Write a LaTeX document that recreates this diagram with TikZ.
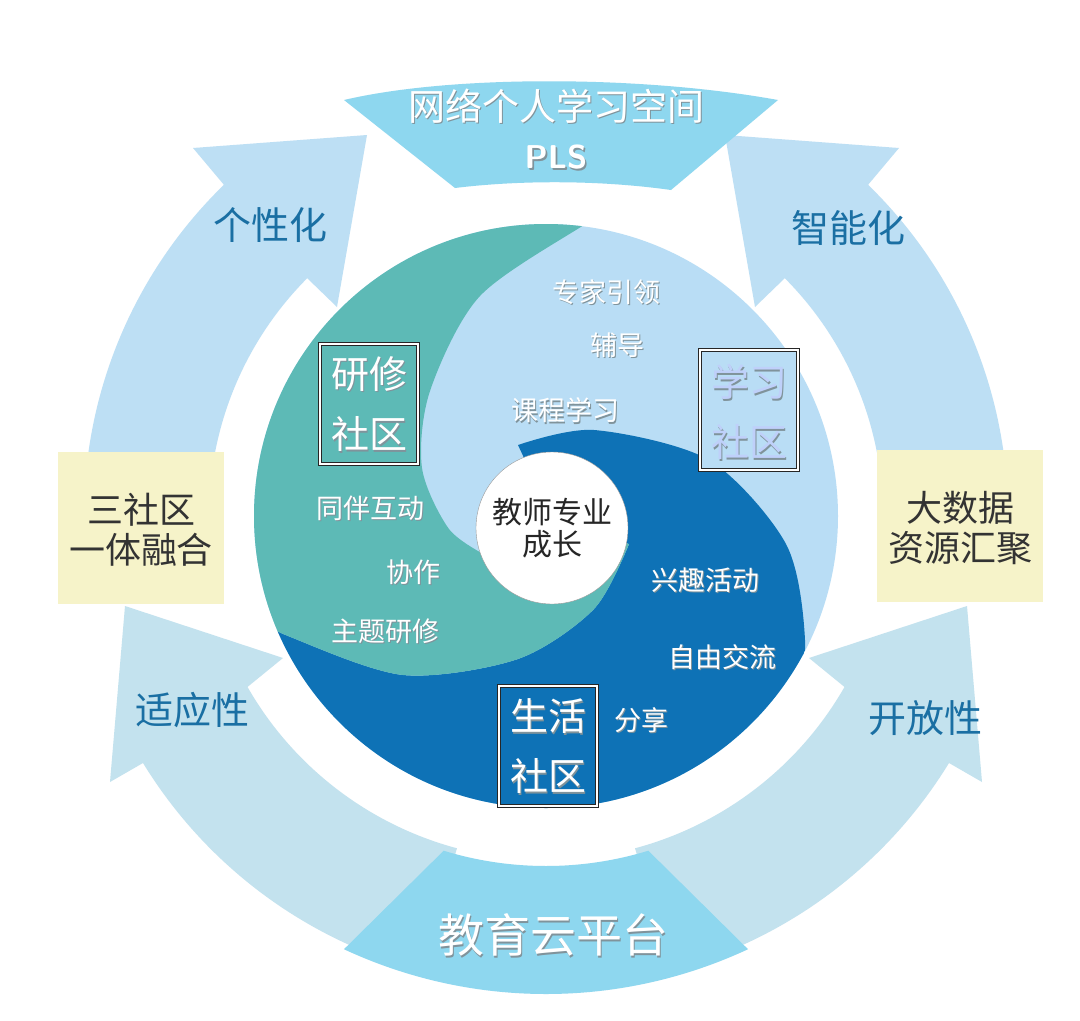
\documentclass[tikz,border=0pt]{standalone}
\usepackage{fontspec}
\newfontfamily\cjk{Noto Sans CJK SC}
\usetikzlibrary{calc}
\definecolor{arrowA}{HTML}{BDDFF4}
\definecolor{arrowB}{HTML}{C3E2EE}
\definecolor{banner}{HTML}{8ED7EF}
\definecolor{ylw}{HTML}{F6F3C9}
\definecolor{teal}{HTML}{5DBAB6}
\definecolor{lblue}{HTML}{B9DDF5}
\definecolor{dblue}{HTML}{0E72B6}
\definecolor{lbltxt}{HTML}{1A6FA3}
\definecolor{shd}{HTML}{4A6470}
\newcommand{\fs}[1]{\cjk\fontsize{#1}{#1}\selectfont}
\newcommand{\stxt}[5]{%
  \node[text=shd!70, font=\fs{#3}] (#1s) at ($(#2)+(1.6,1.6)$) {#4};
  \node[text=#5, font=\fs{#3}] (#1) at (#2) {#4};}
\tikzset{
  cbox/.style={draw=black!85, line width=1pt, double=white, double distance=1.6pt, minimum width=98pt, minimum height=120pt},
  ybox/.style={fill=ylw, minimum width=166pt, minimum height=152pt, inner sep=0pt, align=center, text=black!80, font=\fs{36}, text depth=0pt},
  albl/.style={text=lbltxt, font=\fs{38}},
}
\begin{document}
\begin{tikzpicture}[x=1pt,y=-1pt]
\fill[white] (0,0) rectangle (1080,1021);
\useasboundingbox (0,0) rectangle (1080,1021);
\coordinate (C) at (546,516);
% upper-left arrow
\fill[arrowA] ($(C)+(185:462)$) arc[start angle=185,end angle=225.8,radius=462] -- (193,148) -- (367,135) -- (337,307) -- (307,278) -- ($(C)+(225:337)$) arc[start angle=225,end angle=185,radius=337] -- cycle;
% upper-right arrow
\fill[arrowA] ($(C)+(-5:462)$) arc[start angle=-5,end angle=-45.8,radius=462] -- (899,148) -- (725,135) -- (755,307) -- (785,278) -- ($(C)+(-45:337)$) arc[start angle=-45,end angle=-5,radius=337] -- cycle;
% lower-left arrow
\fill[arrowB] (143,763) arc[start angle=148.5,end angle=105,radius=468] -- ($(C)+(105:344)$) arc[start angle=105,end angle=150.2,radius=344] -- (283,658) -- (125,606) -- (110,782) -- cycle;
% lower-right arrow
\fill[arrowB] (949,763) arc[start angle=31.5,end angle=75,radius=468] -- ($(C)+(75:344)$) arc[start angle=75,end angle=29.8,radius=344] -- (809,658) -- (967,606) -- (982,782) -- cycle;
% banners
\fill[banner] (344,100) .. controls (450,75) and (640,75) .. (778,100) -- (671,190) .. controls (600,180) and (520,180) .. (455,188) -- cycle;
\fill[banner] ($(C)+(107:350)$) arc[start angle=107,end angle=73,radius=350] -- ($(C)+(65:478)$) arc[start angle=65,end angle=115,radius=478] -- cycle;
\coordinate (pt1) at (556,106);
\coordinate (pt2) at (556,157);
\stxt{ttl}{pt1}{37}{网络个人学习空间}{white}
\node[text=shd!70, font=\sffamily\bfseries\fontsize{33}{33}\selectfont] (plss) at (557.6,158.6) {PLS};
\node[text=white, font=\sffamily\bfseries\fontsize{33}{33}\selectfont] (pls) at (pt2) {PLS};
\coordinate (pb) at (553,935);
\stxt{edu}{pb}{46}{教育云平台}{white}
% yellow boxes
\node[ybox] (lbox) at (141,528) {三社区\\[4pt]一体融合};
\node[ybox] (rbox) at (960,526) {大数据\\[4pt]资源汇聚};
% arrow labels
\node[albl] (a1) at (270,225) {个性化};
\node[albl] (a2) at (848,228) {智能化};
\node[albl] (a3) at (192,710) {适应性};
\node[albl] (a4) at (925,718) {开放性};
% inner circle
\fill[lblue] (C) circle[radius=292];
\begin{scope}
\clip (C) circle[radius=292];
\fill[dblue] (200,590) -- plot[smooth] coordinates {(250,615) (288,636) (403,675) (518,659) (594,609) (629,544)} -- (552,518) -- plot[smooth] coordinates {(518,445) (594,430) (709,460) (786,544) (805,640) (795,720)} -- (850,900) -- (200,900) -- cycle;
\fill[teal] plot[smooth] coordinates {(487,556) (449,529) (422,468) (430,391) (480,296) (587,223) (640,190)} -- (200,150) -- (200,600) -- plot[smooth] coordinates {(250,615) (288,636) (403,675) (518,659) (594,609) (629,544)} -- (552,518) -- cycle;
\end{scope}
\node[circle, fill=white, draw=black!40, minimum size=152pt, inner sep=0pt, align=center, font=\fs{30}, text=black!85] (core) at (552,528) {教师专业\\[2pt]成长};
% community boxes
\node[cbox, fill=teal] (b1) at (369,404) {};
\node[cbox, fill=lblue] (b2) at (749,410) {};
\node[cbox, fill=dblue] (b3) at (548,746) {};
\coordinate (t1a) at (369,374); \coordinate (t1b) at (369,434);
\coordinate (t2a) at (749,382); \coordinate (t2b) at (749,442);
\coordinate (t3a) at (548,716); \coordinate (t3b) at (548,776);
\stxt{y1}{t1a}{38}{研修}{white}
\stxt{y2}{t1b}{38}{社区}{white}
\stxt{x1}{t2a}{38}{学习}{lblue!80!blue!60}
\stxt{x2}{t2b}{38}{社区}{lblue!80!blue!60}
\stxt{s1}{t3a}{38}{生活}{white}
\stxt{s2}{t3b}{38}{社区}{white}
% inner labels
\coordinate (p1) at (606,292); \coordinate (p2) at (617,345); \coordinate (p3) at (565,410);
\coordinate (p4) at (370,508); \coordinate (p5) at (413,572); \coordinate (p6) at (385,631);
\coordinate (p7) at (705,580); \coordinate (p8) at (722,657); \coordinate (p9) at (641,720);
\stxt{l1}{p1}{27}{专家引领}{white}
\stxt{l2}{p2}{27}{辅导}{white}
\stxt{l3}{p3}{27}{课程学习}{white}
\stxt{l4}{p4}{27}{同伴互动}{white}
\stxt{l5}{p5}{27}{协作}{white}
\stxt{l6}{p6}{27}{主题研修}{white}
\stxt{l7}{p7}{27}{兴趣活动}{white}
\stxt{l8}{p8}{27}{自由交流}{white}
\stxt{l9}{p9}{27}{分享}{white}
\end{tikzpicture}
\end{document}
